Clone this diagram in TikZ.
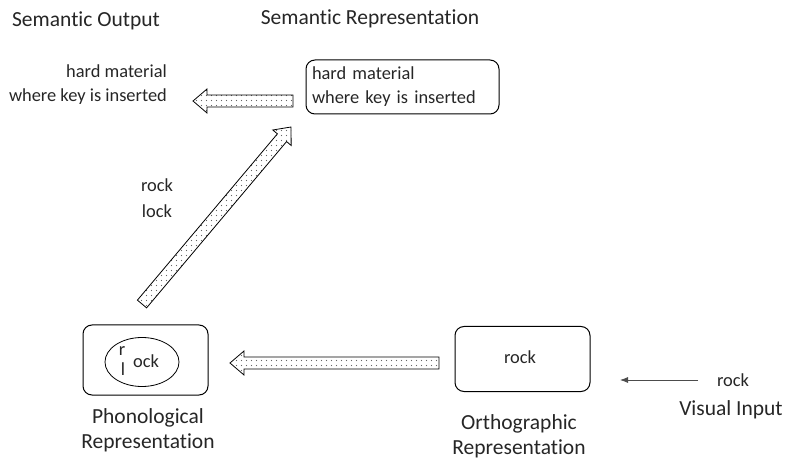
\documentclass[tikz,border=0pt]{standalone}
\usepackage{fontspec}
\setmainfont{Carlito}[Ligatures={NoCommon}]
\usetikzlibrary{calc,patterns,arrows.meta}

% sparse dot fill for the block arrows
\pgfdeclarepatternformonly{sparsedots}{\pgfpoint{-1pt}{-1pt}}{\pgfpoint{6pt}{6pt}}{\pgfpoint{5pt}{5pt}}%
{\pgfpathcircle{\pgfpoint{1.5pt}{1.5pt}}{0.6pt}\pgfusepath{fill}}

\tikzset{
  heading/.style={font=\fontsize{21.5}{25}\selectfont, text=black!85, inner sep=0pt},
  body/.style={font=\fontsize{18.4}{24}\selectfont, text=black!85, inner sep=0pt},
  repbox/.style={draw, line width=1pt, rounded corners=9pt},
  fatarrow/.style={draw, line width=0.8pt, pattern=sparsedots, pattern color=black!60, line join=miter},
  thinarrow/.style={draw=black!70, line width=0.8pt, -{Latex[length=8pt,width=6pt]}}
}

% block arrow from #1 to #2: shaft half width 6, head half width 12, head length 14
\newcommand\blockarrow[2]{%
  \path[fatarrow]
    ($(#1)!6pt!90:(#2)$) --
    ($($(#2)!14pt!(#1)$)!6pt!-90:(#1)$) --
    ($($(#2)!14pt!(#1)$)!12pt!-90:(#1)$) --
    (#2) --
    ($($(#2)!14pt!(#1)$)!12pt!90:(#1)$) --
    ($($(#2)!14pt!(#1)$)!6pt!90:(#1)$) --
    ($(#1)!6pt!-90:(#2)$) -- cycle;}

\begin{document}
\begin{tikzpicture}[x=1pt, y=-1pt]
  \useasboundingbox (0,0) rectangle (790,462);

  % headings
  \node[heading] (hout) at (86,21) {Semantic Output};
  \node[heading] (hrep) at (370,19) {Semantic Representation};

  % semantic representation
  \node[repbox, body, minimum width=193pt, minimum height=54pt, text width=181pt, align=left] (semrep) at (402.5,87)
    {hard material\\where key is inserted};

  % semantic output text
  \node[body, align=right, anchor=east] (semout) at (167,85) {hard material\\where key is inserted};

  % phonological representation
  \node[repbox, minimum width=125pt, minimum height=70pt] (phon) at (145.5,360) {};
  \draw[line width=0.8pt] (142,362) ellipse [x radius=37, y radius=24.5];
  \node[body] (pr) at (122,351) {r};
  \node[body] (pl) at (123,369) {l};
  \node[body] (pock) at (146,361) {ock};
  \node[heading, align=center] (phonlab) at (148,430) {Phonological\\Representation};

  % orthographic representation
  \node[repbox, body, minimum width=135pt, minimum height=65pt] (orth) at (522.5,359) {};
  \node[body] (orock) at (520,357) {rock};
  \node[heading, align=center] (orthlab) at (519,436) {Orthographic\\Representation};

  % visual input
  \node[body] (vrock) at (733,380) {rock};
  \node[heading] (vlab) at (731,410) {Visual Input};
  \coordinate (vin) at (698,380);
  \coordinate (vout) at (620,380);
  \draw[thinarrow] (vin) -- (vout);

  % candidate words
  \node[body] (wrock) at (157,185) {rock};
  \node[body] (wlock) at (157,211) {lock};

  % block arrows
  \coordinate (a1t) at (293,101);
  \coordinate (a1h) at (193,101);
  \blockarrow{a1t}{a1h}
  \coordinate (a2t) at (142,304);
  \coordinate (a2h) at (291,127);
  \blockarrow{a2t}{a2h}
  \coordinate (a3t) at (439,363);
  \coordinate (a3h) at (230,363);
  \blockarrow{a3t}{a3h}
\end{tikzpicture}
\end{document}
